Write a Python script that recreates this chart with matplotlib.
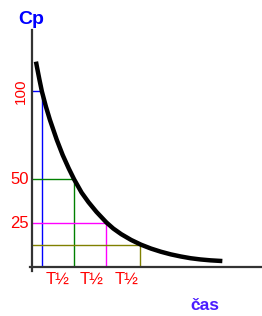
import matplotlib.pyplot as plt

# time (arbitrary units, one unit ~ one pixel) and concentration
time = [4, 5, 7.5, 10, 14, 18, 25, 31, 37, 42.5, 50, 57, 65, 75, 82, 90, 100, 110,
        120, 130, 140, 150, 160, 170, 180, 192]
conc = [117, 114, 106.8, 100, 91.5, 84, 72.5, 63.8, 56.3, 50, 42.5, 37, 31.5, 25.5, 22,
        18.8, 15.5, 12.8, 10.6, 8.8, 7.3, 6.1, 5.1, 4.4, 3.9, 3.5]

# half-life guide levels
guide_levels = [100, 50, 25, 12.5]
guide_times = [10, 42.5, 75, 109]
guide_colors = ["#0000ff", "#008000", "#ff00ff", "#808000"]

ytick_vals = [100, 50, 25]
half_label = "T½"
half_label_pos = [26, 60, 95]


def main():
    plt.rcParams["font.family"] = ["Liberation Sans", "DejaVu Sans"]
    fig = plt.figure(figsize=(2.62, 3.16), dpi=100)
    ax = fig.add_axes([30 / 262, 45.3 / 316, 232 / 262, 240.7 / 316])

    # guide lines from the y axis to the curve and down to the x axis
    for lvl, t, c in zip(guide_levels, guide_times, guide_colors):
        ax.plot([0, t], [lvl, lvl], color=c, lw=1.0, solid_capstyle="butt")
        ax.plot([t, t], [0, lvl], color=c, lw=1.0, solid_capstyle="butt")

    ax.plot(time, conc, color="black", lw=3.2, solid_capstyle="butt",
            solid_joinstyle="round", zorder=5)

    ax.set_xlim(-2, 232)
    ax.set_ylim(-2, 135)
    for s in ["top", "right"]:
        ax.spines[s].set_visible(False)
    for s in ["left", "bottom"]:
        ax.spines[s].set_position(("data", 0))
        ax.spines[s].set_color("#333333")
        ax.spines[s].set_linewidth(1.6)
    ax.set_xticks([])
    ax.set_yticks([])

    # y tick labels
    for v in ytick_vals:
        if v == 100:
            ax.text(-11, v, str(v), color="red", fontsize=11, rotation=90,
                    ha="center", va="center")
        else:
            ax.text(-3, v, str(v), color="red", fontsize=12, ha="right", va="center")

    for x in half_label_pos:
        ax.text(x, -7, half_label, color="red", fontsize=12, ha="center", va="center")

    fig.text(31 / 262, 1 - 20 / 316, "Cp", color="#0000ff", fontsize=14,
             fontweight="bold", ha="center", va="center")
    fig.text(205 / 262, 1 - 306 / 316, "čas", color="#4a1cff", fontsize=12.5,
             fontweight="bold", ha="center", va="center")

    fig.savefig("out.png", dpi=100)


if __name__ == '__main__':
    main()
